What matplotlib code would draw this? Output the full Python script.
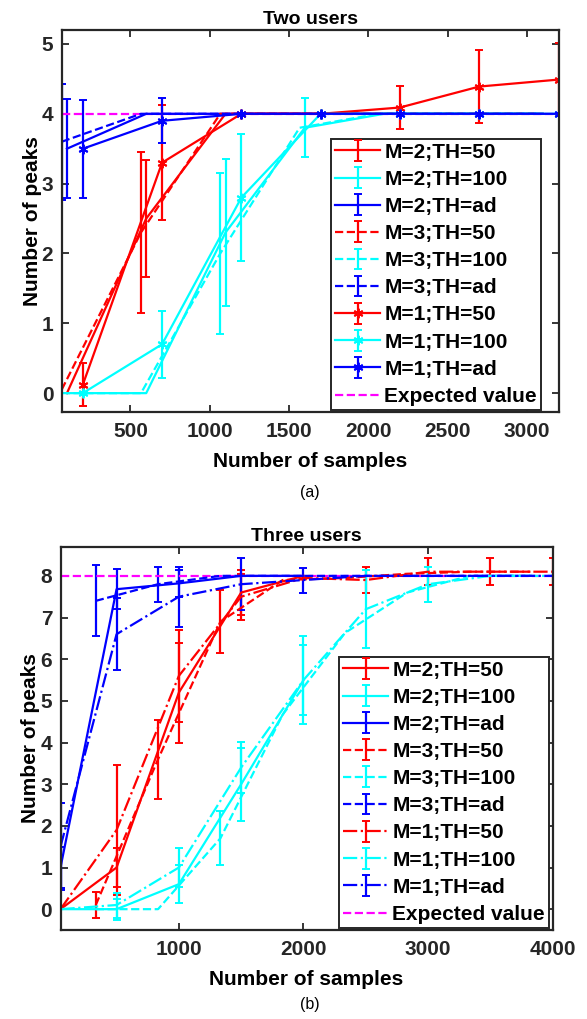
import numpy as np
import matplotlib
matplotlib.use("Agg")
import matplotlib.pyplot as plt

plt.rcParams['font.family'] = ['Liberation Sans', 'DejaVu Sans']
plt.rcParams['font.weight'] = 'bold'

nan = np.nan
# ---------------- (a) Two users ----------------
a_x_m2 = [100, 600, 1100, 1600, 2100, 2600, 3100]
a_x_m3 = [67, 567, 1067, 1567, 2067, 2567, 3067]
a_x_m1 = [200, 700, 1200, 1700, 2200, 2700, 3200]

a_m2_th50 = [0.0, 2.5, 4.0, 4.0, 4.0, 4.0, 4.0]
a_m2_th50_err = [nan, 0.84, nan, nan, nan, nan, nan]
a_m2_th100 = [0.0, 0.0, 2.3, 3.8, 4.0, 4.0, 4.0]
a_m2_th100_err = [nan, nan, 1.05, 0.42, nan, nan, nan]
a_m2_thad = [3.5, 4.0, 4.0, 4.0, 4.0, 4.0, 4.0]
a_m2_thad_err = [0.71, nan, nan, nan, nan, nan, nan]

a_m3_th50 = [0.05, 2.3, 4.0, 4.0, 4.0, 4.0, 4.0]
a_m3_th50_err = [nan, 1.15, nan, nan, nan, nan, nan]
a_m3_th100 = [0.0, 0.0, 2.0, 3.8, 4.0, 4.0, 4.0]
a_m3_th100_err = [nan, nan, 1.15, nan, nan, nan, nan]
a_m3_thad = [3.6, 4.0, 4.0, 4.0, 4.0, 4.0, 4.0]
a_m3_thad_err = [0.83, nan, nan, nan, nan, nan, nan]

a_m1_th50 = [0.12, 3.3, 4.0, 4.0, 4.09, 4.39, 4.49]
a_m1_th50_err = [0.31, 0.82, nan, nan, 0.31, 0.52, 0.52]
a_m1_th100 = [0.0, 0.7, 2.8, 4.0, 4.0, 4.0, 4.0]
a_m1_th100_err = [nan, 0.48, 0.91, nan, nan, nan, nan]
a_m1_thad = [3.5, 3.9, 4.0, 4.0, 4.0, 4.0, 4.0]
a_m1_thad_err = [0.7, 0.32, nan, nan, nan, nan, nan]
a_expected = 4
a_xlim = [67, 3205]

# ---------------- (b) Three users ----------------
b_x_m2 = [50, 500, 1000, 1500, 2000]
b_x_m3 = [333, 833, 1333, 1833, 2333, 2833, 3333, 3833]
b_x_m1 = [50, 500, 1000, 1500, 2000, 2500, 3000, 3500, 4000]

b_m2_th50 = [0.0, 1.0, 5.2, 7.6, 8.0]
b_m2_th50_err = [nan, 0.47, 1.2, 0.55, nan]
b_m2_th100 = [0.0, 0.0, 0.6, 3.0, 5.5]
b_m2_th100_err = [nan, 0.25, 0.45, 0.88, 0.83]
b_m2_thad = [1.0, 7.68, 7.82, 8.0, 8.0]
b_m2_thad_err = [0.5, 0.48, 0.32, nan, nan]

b_m3_th50 = [0.1, 3.6, 6.9, 7.9, 7.95, 8.05, 8.1, 8.1]
b_m3_th50_err = [0.32, 0.95, 0.75, nan, nan, nan, nan, nan]
b_m3_th100 = [0.0, 0.0, 1.7, 4.67, 6.63, 7.6, 8.0, 8.0]
b_m3_th100_err = [nan, nan, 0.65, nan, nan, nan, nan, nan]
b_m3_thad = [7.4, 7.8, 8.0, 8.0, 8.0, 8.0, 8.0, 8.0]
b_m3_thad_err = [0.85, 0.42, nan, nan, nan, nan, nan, nan]

b_m1_th50 = [0.0, 1.9, 5.6, 7.5, 7.95, 7.9, 8.1, 8.1, 8.1]
b_m1_th50_err = [nan, 1.55, 1.1, 0.55, nan, 0.32, 0.32, 0.32, 0.32]
b_m1_th100 = [0.0, 0.1, 1.0, 3.4, 5.5, 7.2, 7.8, 8.0, 8.0]
b_m1_th100_err = [nan, 0.3, 0.47, 0.62, 1.05, 0.93, 0.42, nan, nan]
b_m1_thad = [1.5, 6.6, 7.5, 7.8, 7.9, 8.0, 8.0, 8.0, 8.0]
b_m1_thad_err = [1.05, 0.87, 0.72, 0.63, 0.3, nan, nan, nan, nan]
b_expected = 8
b_xlim = [50, 4000]

labels = ['M=2;TH=50', 'M=2;TH=100', 'M=2;TH=ad',
          'M=3;TH=50', 'M=3;TH=100', 'M=3;TH=ad',
          'M=1;TH=50', 'M=1;TH=100', 'M=1;TH=ad', 'Expected value']
colors = ['#ff0000', '#00ffff', '#0000ff']

W, H = 587, 1019
fig = plt.figure(figsize=(W / 100, H / 100), dpi=100)
LW = 1.6
CAP = 3.0
FS = 15


def style_axes(ax):
    for s in ax.spines.values():
        s.set_linewidth(1.6)
        s.set_color('#262626')
    ax.tick_params(direction='in', length=5, width=1.3, top=True, right=True,
                   labelsize=FS, colors='#262626')
    ax.tick_params(axis='x', pad=7)
    ax.tick_params(axis='y', pad=6)
    for lab in ax.get_xticklabels() + ax.get_yticklabels():
        lab.set_fontweight('bold')


def draw(ax, series, xlim, expected):
    handles = []
    for (x, y, e, ls, c, mk) in series:
        h = ax.errorbar(x, y, yerr=e, color=c, linestyle=ls, linewidth=LW,
                        elinewidth=LW, capsize=CAP, capthick=LW,
                        marker=mk, markersize=7, markeredgewidth=1.4)
        handles.append(h)
    h, = ax.plot(xlim, [expected, expected], color='#ff00ff', linestyle='--',
                 linewidth=LW)
    handles.append(h)
    return handles


def make_legend(ax, hs, right_px, bottom_px):
    leg = ax.legend(hs, labels, loc='lower right', fontsize=FS, frameon=True,
                    fancybox=False, edgecolor='#262626', framealpha=1,
                    handlelength=2.15, handletextpad=0.2, labelspacing=0.39,
                    borderpad=0.2, borderaxespad=0,
                    bbox_to_anchor=(right_px / W, 1 - bottom_px / H),
                    bbox_transform=fig.transFigure)
    leg.get_frame().set_linewidth(1.4)
    for t in leg.get_texts():
        t.set_fontweight('bold')
    return leg


# ---- top ----
ax1 = fig.add_axes([61.7 / W, 1 - 412 / H, 497.6 / W, 382 / H])
star = (6, 2, 0)
ser_a = [
    (a_x_m2, a_m2_th50, a_m2_th50_err, '-', colors[0], None),
    (a_x_m2, a_m2_th100, a_m2_th100_err, '-', colors[1], None),
    (a_x_m2, a_m2_thad, a_m2_thad_err, '-', colors[2], None),
    (a_x_m3, a_m3_th50, a_m3_th50_err, '--', colors[0], None),
    (a_x_m3, a_m3_th100, a_m3_th100_err, '--', colors[1], None),
    (a_x_m3, a_m3_thad, a_m3_thad_err, '--', colors[2], None),
    (a_x_m1, a_m1_th50, a_m1_th50_err, '-', colors[0], star),
    (a_x_m1, a_m1_th100, a_m1_th100_err, '-', colors[1], star),
    (a_x_m1, a_m1_thad, a_m1_thad_err, '-', colors[2], star),
]
hs = draw(ax1, ser_a, a_xlim, a_expected)
ax1.set_xlim(a_xlim)
ax1.set_ylim(-0.27, 5.2)
ax1.set_xticks([500, 1000, 1500, 2000, 2500, 3000])
ax1.set_yticks([0, 1, 2, 3, 4, 5])
style_axes(ax1)
ax1.set_title('Two users', fontsize=14, fontweight='bold', pad=4)
ax1.set_xlabel('Number of samples', fontsize=FS, fontweight='bold', labelpad=8)
ax1.set_ylabel('Number of peaks', fontsize=FS, fontweight='bold', labelpad=0)
make_legend(ax1, hs, 541, 410)
fig.text(310 / W, 1 - 493 / H, '(a)', ha='center', va='center', fontsize=11.5,
         fontweight='normal')

# ---- bottom ----
ax2 = fig.add_axes([60.5 / W, 1 - 930 / H, 492.2 / W, 383.3 / H])
ser_b = [
    (b_x_m2, b_m2_th50, b_m2_th50_err, '-', colors[0], None),
    (b_x_m2, b_m2_th100, b_m2_th100_err, '-', colors[1], None),
    (b_x_m2, b_m2_thad, b_m2_thad_err, '-', colors[2], None),
    (b_x_m3, b_m3_th50, b_m3_th50_err, '--', colors[0], None),
    (b_x_m3, b_m3_th100, b_m3_th100_err, '--', colors[1], None),
    (b_x_m3, b_m3_thad, b_m3_thad_err, '--', colors[2], None),
    (b_x_m1, b_m1_th50, b_m1_th50_err, '-.', colors[0], None),
    (b_x_m1, b_m1_th100, b_m1_th100_err, '-.', colors[1], None),
    (b_x_m1, b_m1_thad, b_m1_thad_err, '-.', colors[2], None),
]
hs2 = draw(ax2, ser_b, b_xlim, b_expected)
ax2.set_xlim(b_xlim)
ax2.set_ylim(-0.5, 8.7)
ax2.set_xticks([1000, 2000, 3000, 4000])
ax2.set_yticks([0, 1, 2, 3, 4, 5, 6, 7, 8])
style_axes(ax2)
ax2.set_title('Three users', fontsize=14, fontweight='bold', pad=4)
ax2.set_xlabel('Number of samples', fontsize=FS, fontweight='bold', labelpad=8)
ax2.set_ylabel('Number of peaks', fontsize=FS, fontweight='bold', labelpad=0)
make_legend(ax2, hs2, 549, 928)
fig.text(310 / W, 1 - 1005 / H, '(b)', ha='center', va='center', fontsize=11.5,
         fontweight='normal')

fig.savefig('out.png', dpi=100)
